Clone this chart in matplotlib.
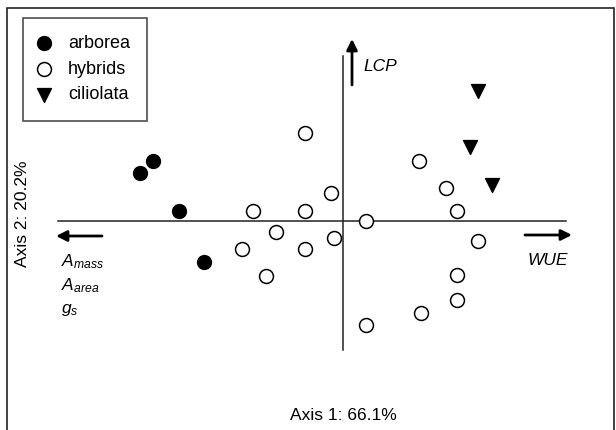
import numpy as np
import matplotlib
matplotlib.use("Agg")
import matplotlib.pyplot as plt
from matplotlib.patches import Rectangle

plt.rcParams["font.family"] = ["Liberation Sans", "DejaVu Sans"]
plt.rcParams["mathtext.fontset"] = "custom"
plt.rcParams["mathtext.rm"] = "Liberation Sans"
plt.rcParams["mathtext.it"] = "Liberation Sans:italic"

# PCA scores (axis 1, axis 2)
arborea_x = [-2.03, -1.90, -1.64, -1.39]
arborea_y = [0.48, 0.60, 0.10, -0.41]

hybrids_x = [-0.38, 0.76, -0.12, 1.03, -0.90, -0.38, 1.14, 0.23, -0.67,
             -0.09, 1.35, -1.01, -0.38, -0.77, 1.14, 1.14, 0.78, 0.23]
hybrids_y = [0.88, 0.60, 0.28, 0.33, 0.10, 0.10, 0.10, 0.00, -0.11,
             -0.17, -0.20, -0.28, -0.28, -0.55, -0.54, -0.79, -0.92, -1.04]

ciliolata_x = [1.35, 1.27, 1.49]
ciliolata_y = [1.30, 0.74, 0.36]

fig = plt.figure(figsize=(6.16, 4.30), dpi=100)
ax = fig.add_axes([0, 0, 1, 1])
ax.set_xlim(-3.43, 2.73)
ax.set_ylim(-2.09, 2.21)
ax.axis("off")

# outer frame (bottom runs off the picture)
fig.patches.append(Rectangle((7 / 616, -0.05), 607 / 616, 1 - 8 / 430 + 0.05,
                             transform=fig.transFigure, fill=False,
                             edgecolor="#222222", lw=1.2))

# axis lines
ax.plot([-2.85, 2.23], [0, 0], color="#222222", lw=1.1)
ax.plot([0, 0], [-1.29, 1.65], color="#222222", lw=1.1)

arrow = dict(arrowstyle="-|>", color="black", lw=2, mutation_scale=16,
             shrinkA=0, shrinkB=0)
ax.annotate("", xy=(0.09, 1.82), xytext=(0.09, 1.36), arrowprops=arrow)
ax.annotate("", xy=(-2.87, -0.15), xytext=(-2.41, -0.15), arrowprops=arrow)
ax.annotate("", xy=(2.29, -0.14), xytext=(1.82, -0.14), arrowprops=arrow)

fs = 12.5
ax.text(0.20, 1.50, "LCP", style="italic", fontsize=fs, ha="left", va="baseline")
ax.text(2.25, -0.44, "WUE", style="italic", fontsize=fs, ha="right", va="baseline")
ax.text(-2.82, -0.45, r"$A_{mass}$", fontsize=fs, ha="left", va="baseline")
ax.text(-2.82, -0.69, r"$A_{area}$", fontsize=fs, ha="left", va="baseline")
ax.text(-2.82, -0.92, r"$g_{s}$", fontsize=fs, ha="left", va="baseline")

ax.text(0.0, -1.94, "Axis 1: 66.1%", fontsize=fs, ha="center", va="center")
ax.text(-3.21, 0.07, "Axis 2: 20.2%", fontsize=fs, ha="center", va="center",
        rotation=90)

ax.scatter(arborea_x, arborea_y, s=100, marker="o", color="black",
           label="arborea", zorder=3)
ax.scatter(hybrids_x, hybrids_y, s=100, marker="o", facecolor="white",
           edgecolor="black", linewidth=1.1, label="hybrids", zorder=3)
ax.scatter(ciliolata_x, ciliolata_y, s=100, marker="v", color="black",
           label="ciliolata", zorder=3)

leg = ax.legend(loc="upper left", bbox_to_anchor=(23 / 616, 1 - 18 / 430),
                bbox_transform=fig.transFigure, borderaxespad=0,
                fontsize=13, frameon=True, fancybox=False, edgecolor="#222222",
                handlelength=0.4, handletextpad=1.15, borderpad=0.95,
                labelspacing=0.48, scatterpoints=1)
leg.get_frame().set_linewidth(1.2)

fig.savefig("out.png", dpi=100)
